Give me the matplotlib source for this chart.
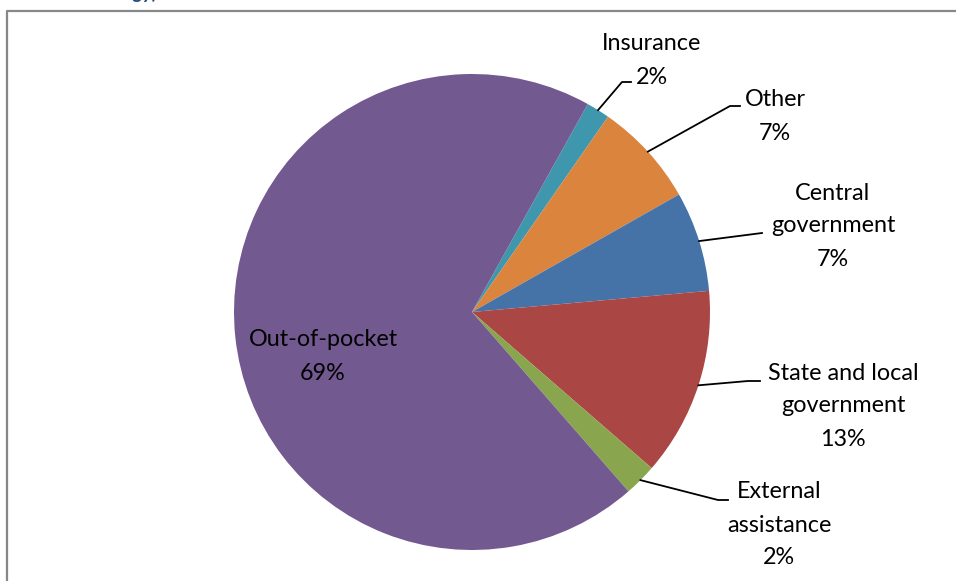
import matplotlib
matplotlib.use("Agg")
import matplotlib.pyplot as plt
import numpy as np

# health spending by source (share of total, %)
sources = ["Insurance", "Other", "Central\ngovernment", "State and local\ngovernment",
           "External\nassistance", "Out-of-pocket"]
shares = [1.6, 7.1, 6.8, 12.8, 2.2, 69.5]
pct_labels = ["2%", "7%", "7%", "13%", "2%", "69%"]
colors = ["#3F97AE", "#DB843D", "#4572A7", "#AA4643", "#89A54E", "#72598F"]

W, H = 956, 581
fig = plt.figure(figsize=(W / 100, H / 100), dpi=100)
ax = fig.add_axes([0, 0, 1, 1])

cx, cy, r = 472, H - 312, 238
start = 90 - 29.1
wedges, _ = ax.pie(shares, colors=colors, startangle=start, counterclock=False,
                   center=(cx, cy), radius=r, wedgeprops=dict(linewidth=0))

ax.set_xlim(0, W)
ax.set_ylim(0, H)
ax.set_aspect("equal")
ax.axis("off")

# outer chart frame (cut off on right and bottom)
ax.plot([7.5, 7.5, W + 5], [-5, H - 10.5, H - 10.5], color="#878787", lw=1.6,
        solid_capstyle="butt", clip_on=False)

font = dict(family="Lato", fontsize=16.8, color="black")

# label text centre (x, first line y, in px from top) and leader elbow (x, y)
label_pos = [(652, 44), (775, 100), (833, 193), (843, 373), (779, 492), (323, 340)]
elbows = [(622, 82, 631), (730, 106, 740), (None, 233, 762), (748, 381, 760),
          (718, 500, 728), None]
line_gap = 33

for i, w in enumerate(wedges):
    lines = sources[i].split("\n") + [pct_labels[i]]
    x0, y0 = label_pos[i]
    for k, s in enumerate(lines):
        ax.text(x0, H - (y0 + k * line_gap), s, ha="center", va="center", **font)
    if elbows[i] is None:
        continue
    mid = np.deg2rad((w.theta1 + w.theta2) / 2)
    px, py = cx + r * np.cos(mid), cy + r * np.sin(mid)
    ex, ey, endx = elbows[i]
    if ex is None:
        xs, ys = [px, endx], [py, H - ey]
    else:
        xs, ys = [px, ex, endx], [py, H - ey, H - ey]
    ax.plot(xs, ys, color="black", lw=1.3)

# clipped caption above the frame
ax.text(158, H + 1, "ogy)", ha="right", va="baseline", fontsize=14,
        fontstyle="italic", fontweight="bold", color="#1F4E79", family="Lato",
        clip_on=False)

fig.savefig("out.png", dpi=100)
